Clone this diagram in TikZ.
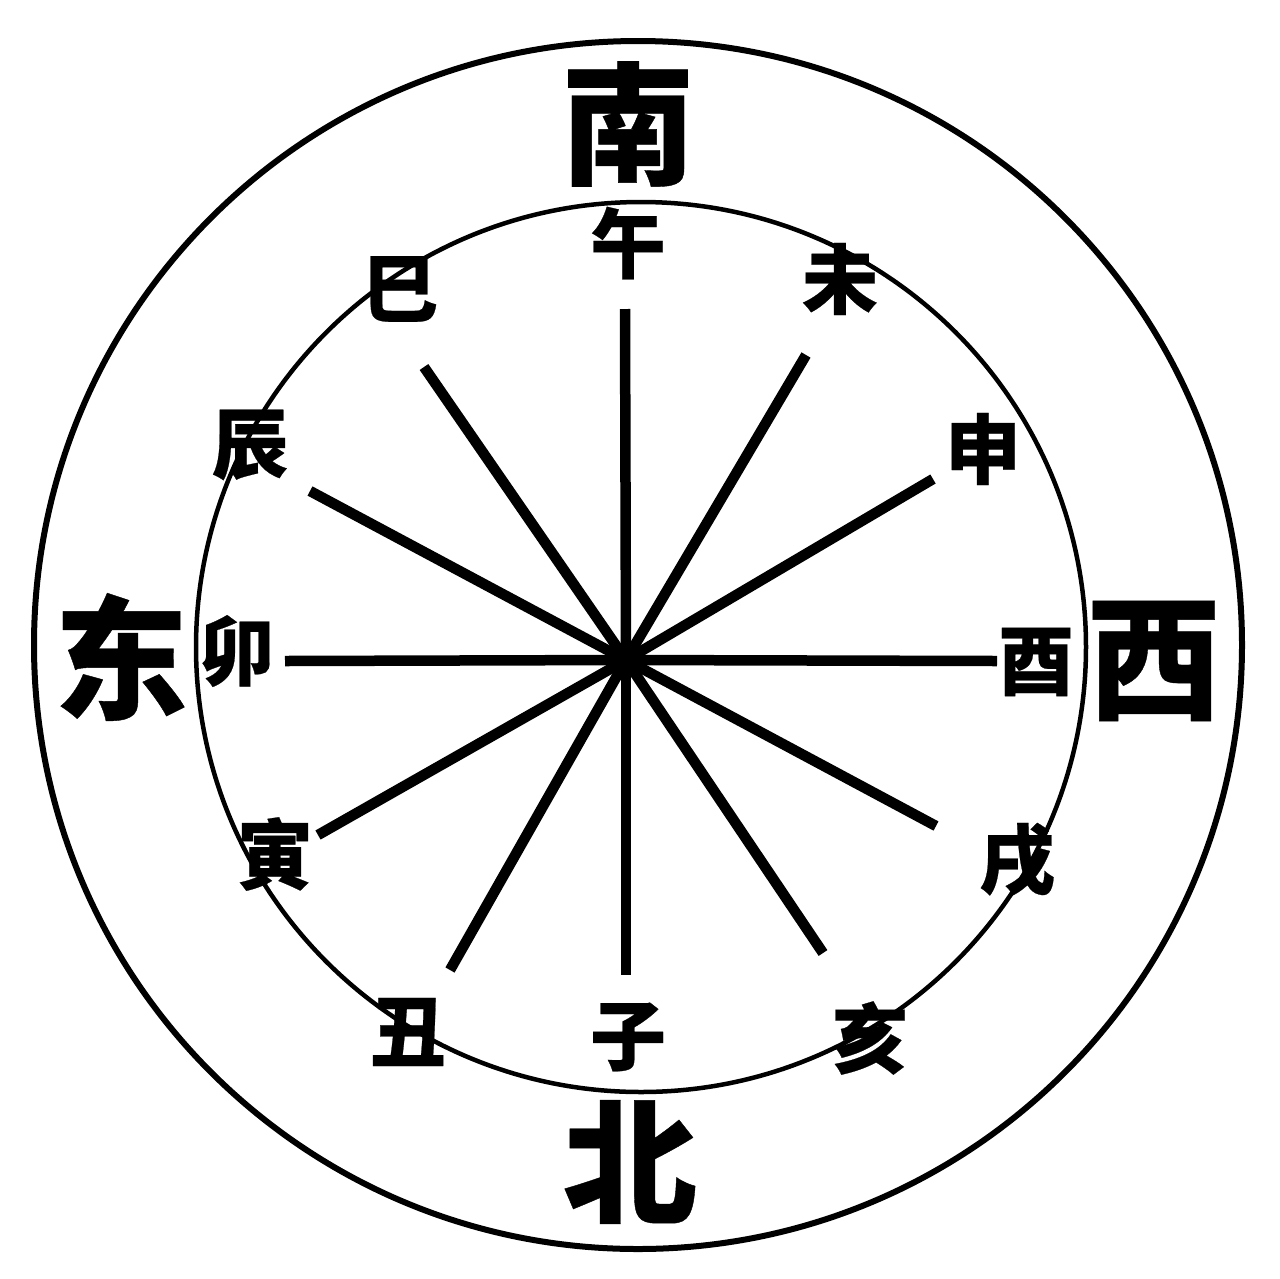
\documentclass[tikz,border=0pt]{standalone}
\usepackage{fontspec}
\newfontfamily\cjk{Noto Sans CJK SC}[BoldFeatures={FakeBold=0.3}]
\begin{document}
\begin{tikzpicture}[x=1pt,y=-1pt,
  big/.style={font=\cjk\bfseries\fontsize{134}{134}\selectfont, inner sep=0pt, anchor=center},
  small/.style={font=\cjk\bfseries\fontsize{76}{76}\selectfont, inner sep=0pt, anchor=center},
  spoke/.style={line width=10.5pt, line cap=butt},
  ring/.style={line width=6pt},
  inring/.style={line width=4.5pt}]
\useasboundingbox[fill=white] (0,0) rectangle (1280,1278);
% circles
\coordinate (oc) at (638,645);
\coordinate (ic) at (641,647);
\draw[ring] (oc) circle[radius=604];
\draw[inring] (ic) circle[radius=445];
% spokes
\coordinate (c) at (626,660);
\coordinate (sWu) at (625,309);
\coordinate (sZi) at (626,975);
\coordinate (sMao) at (285,661);
\coordinate (sYou) at (997,661);
\coordinate (sSi) at (424,367);
\coordinate (sWei) at (806,355);
\coordinate (sChen) at (310,491);
\coordinate (sShen) at (933,479);
\coordinate (sYin) at (318,835);
\coordinate (sXu) at (936,826);
\coordinate (sChou) at (450,970);
\coordinate (sHai) at (823,953);
\foreach \e in {sWu,sZi,sMao,sYou,sSi,sWei,sChen,sShen,sYin,sXu,sChou,sHai}
  \draw[spoke] (c) -- (\e);
% directions
\node[big] (nan) at (628,124) {南};
\node[big] (bei) at (630,1162) {北};
\node[big] (dong) at (121,657) {东};
\node[big] (xi) at (1154,661) {西};
% branches
\node[small] (wu) at (628,243) {午};
\node[small] (si) at (400,289) {巳};
\node[small] (wei) at (840,279) {未};
\node[small] (chen) at (250,445) {辰};
\node[small] (shen) at (983,449) {申};
\node[small] (mao) at (237,651) {卯};
\node[small] (you) at (1036,662) {酉};
\node[small] (yin) at (275,854) {寅};
\node[small] (xu) at (1017,860) {戌};
\node[small] (chou) at (408,1032) {丑};
\node[small] (zi) at (628,1037) {子};
\node[small] (hai) at (870,1038) {亥};
\end{tikzpicture}
\end{document}
